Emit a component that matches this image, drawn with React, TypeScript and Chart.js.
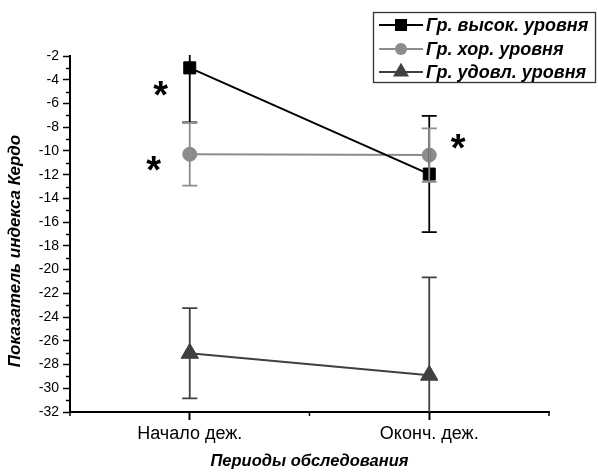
import React, { useEffect, useRef } from 'react';
import { Chart, registerables } from 'chart.js';

Chart.register(...registerables);

// ---- data ----
const categories = ['Начало деж.', 'Оконч. деж.'];
const seriesLabels = ['Гр. высок. уровня', 'Гр. хор. уровня', 'Гр. удовл. уровня'];
const highValues = [-3.0, -11.95];
const highErrors = [4.6, 4.9];
const goodValues = [-10.28, -10.35];
const goodErrors = [2.65, 2.25];
const satValues = [-27.05, -28.9];
const satErrors = [3.8, 8.25];
const yMin = -32;
const yMax = -2;
const yStep = 2;
const xAxisTitle = 'Периоды обследования';
const yAxisTitle = 'Показатель индекса Кердо';
const significanceMark = '*';

const FONT = '"Liberation Sans", Arial, Helvetica, sans-serif';
const COLORS = ['#000000', '#8c8c8c', '#404040'];
const STYLES = ['rect', 'circle', 'triangle'];
const RADII = [8.5, 7, 10];

function drawMarker(ctx: CanvasRenderingContext2D, style: string, x: number, y: number, size: number, color: string) {
  ctx.save();
  ctx.fillStyle = color;
  ctx.strokeStyle = color;
  ctx.beginPath();
  if (style === 'rect') {
    ctx.rect(x - size / 2, y - size / 2, size, size);
  } else if (style === 'circle') {
    ctx.arc(x, y, size / 2, 0, Math.PI * 2);
  } else {
    const r = size / 1.732;
    ctx.moveTo(x, y - r);
    ctx.lineTo(x + r * 0.866, y + r / 2);
    ctx.lineTo(x - r * 0.866, y + r / 2);
    ctx.closePath();
  }
  ctx.fill();
  ctx.restore();
}

const errorBarPlugin = {
  id: 'errorBars',
  afterDatasetsDraw(chart: any) {
    const { ctx, chartArea, scales } = chart;
    const x = scales.x;
    const y = scales.y;
    ctx.save();
    ctx.beginPath();
    ctx.rect(chartArea.left, chartArea.top - 1, chartArea.right - chartArea.left, chartArea.bottom - chartArea.top + 1);
    ctx.clip();
    [2, 0, 1].forEach((di) => {
      const ds = chart.data.datasets[di];
      const errs: number[] = ds.errors;
      ctx.strokeStyle = ds.borderColor;
      ctx.lineWidth = 1.8;
      ds.data.forEach((v: number, j: number) => {
        const px = x.getPixelForValue(j);
        const top = v + errs[j];
        const bot = v - errs[j];
        const pt = y.getPixelForValue(top);
        const pb = y.getPixelForValue(bot);
        ctx.beginPath();
        ctx.moveTo(px, pt);
        ctx.lineTo(px, pb);
        if (top <= yMax) {
          ctx.moveTo(px - 7.5, pt);
          ctx.lineTo(px + 7.5, pt);
        }
        if (bot >= yMin) {
          ctx.moveTo(px - 7.5, pb);
          ctx.lineTo(px + 7.5, pb);
        }
        ctx.stroke();
      });
    });
    ctx.restore();
  },
};

const decorPlugin = {
  id: 'decor',
  afterDraw(chart: any) {
    const { ctx, chartArea, scales } = chart;
    const x = scales.x;
    const y = scales.y;
    ctx.save();
    // minor ticks on y
    ctx.strokeStyle = '#000';
    ctx.lineWidth = 1.5;
    for (let v = yMin + yStep / 2; v < yMax; v += yStep) {
      const py = Math.round(y.getPixelForValue(v)) + 0.5;
      ctx.beginPath();
      ctx.moveTo(chartArea.left - 4, py);
      ctx.lineTo(chartArea.left, py);
      ctx.stroke();
    }
    // minor ticks on x (between / at ends of categories)
    const p0 = x.getPixelForValue(0);
    const p1 = x.getPixelForValue(1);
    const half = (p1 - p0) / 2;
    [p0 - half, p0 + half, p1 + half].forEach((px) => {
      ctx.beginPath();
      ctx.moveTo(px, chartArea.bottom);
      ctx.lineTo(px, chartArea.bottom + 4);
      ctx.stroke();
    });

    // y axis title
    ctx.save();
    ctx.translate(15, 251);
    ctx.rotate(-Math.PI / 2);
    ctx.font = `bold italic 17px ${FONT}`;
    ctx.fillStyle = '#000';
    ctx.textAlign = 'center';
    ctx.textBaseline = 'middle';
    ctx.fillText(yAxisTitle, 0, 0);
    ctx.restore();

    // significance marks
    ctx.font = `bold 38px ${FONT}`;
    ctx.fillStyle = '#000';
    ctx.textAlign = 'center';
    ctx.textBaseline = 'alphabetic';
    const marks = [
      { px: p0 - 29, py: y.getPixelForValue(-4.7) },
      { px: p0 - 36, py: y.getPixelForValue(-11.1) },
      { px: p1 + 29, py: y.getPixelForValue(-9.2) },
    ];
    const m = ctx.measureText(significanceMark);
    const off = (m.actualBoundingBoxAscent - m.actualBoundingBoxDescent) / 2;
    marks.forEach((mk) => ctx.fillText(significanceMark, mk.px, mk.py + off));

    // legend
    const bx = 373.5, by = 12.5, bw = 222, bh = 70;
    ctx.fillStyle = '#fff';
    ctx.fillRect(bx, by, bw, bh);
    ctx.strokeStyle = '#333';
    ctx.lineWidth = 1.3;
    ctx.strokeRect(bx, by, bw, bh);
    const rows = [25, 49, 72];
    chart.data.datasets.forEach((ds: any, i: number) => {
      const ry = rows[i];
      ctx.strokeStyle = ds.borderColor;
      ctx.lineWidth = 2;
      ctx.beginPath();
      ctx.moveTo(379, ry);
      ctx.lineTo(423, ry);
      ctx.stroke();
      drawMarker(ctx, STYLES[i], 401, ry, i === 2 ? 16 : 12, ds.borderColor);
      ctx.font = `bold italic 18px ${FONT}`;
      ctx.fillStyle = '#000';
      ctx.textAlign = 'left';
      ctx.textBaseline = 'middle';
      ctx.fillText(ds.label, 426, ry + 1);
    });
    ctx.restore();
  },
};

export default function App() {
  const ref = useRef<HTMLCanvasElement | null>(null);
  useEffect(() => {
    if (!ref.current) return;
    const mk = (label: string, data: number[], errors: number[], i: number) => ({
      label,
      data,
      errors,
      borderColor: COLORS[i],
      backgroundColor: COLORS[i],
      borderWidth: 2,
      pointStyle: STYLES[i],
      pointRadius: RADII[i],
      pointBorderWidth: 1,
      pointBackgroundColor: COLORS[i],
      pointBorderColor: COLORS[i],
      tension: 0,
      fill: false,
    });
    const chart = new Chart(ref.current, {
      type: 'line',
      data: {
        labels: categories,
        datasets: [
          mk(seriesLabels[0], highValues, highErrors, 0),
          mk(seriesLabels[1], goodValues, goodErrors, 1),
          mk(seriesLabels[2], satValues, satErrors, 2),
        ] as any,
      },
      options: {
        responsive: false,
        animation: false,
        devicePixelRatio: 1,
        layout: { padding: { top: 56, right: 49, left: 0, bottom: 0 } },
        plugins: { legend: { display: false }, tooltip: { enabled: false } },
        scales: {
          x: {
            type: 'category',
            offset: true,
            grid: { display: true, drawOnChartArea: false, drawTicks: true, tickLength: 8, tickWidth: 2, tickColor: '#000', offset: false },
            border: { display: true, color: '#000', width: 2 },
            ticks: { color: '#000', font: { family: FONT, size: 18 }, padding: 3, maxRotation: 0, autoSkip: false },
            title: { display: true, text: xAxisTitle, color: '#000', font: { family: FONT, size: 16.5, weight: 'bold', style: 'italic', lineHeight: 1.25 }, padding: 0 },
            afterFit: (s: any) => { s.height = 60; },
          },
          y: {
            type: 'linear',
            min: yMin,
            max: yMax,
            grid: { display: true, drawOnChartArea: false, drawTicks: true, tickLength: 7, tickWidth: 1.5, tickColor: '#000' },
            border: { display: true, color: '#000', width: 2 },
            ticks: { stepSize: yStep, color: '#000', font: { family: FONT, size: 14 }, padding: 4 },
            afterFit: (s: any) => { s.width = 70; },
          },
        },
      } as any,
      plugins: [errorBarPlugin, decorPlugin],
    });
    return () => chart.destroy();
  }, []);
  return (
    <div style={{ position: 'fixed', left: 0, top: 0, width: 598, height: 472, background: '#fff' }}>
      <canvas ref={ref} width={598} height={472} style={{ display: 'block' }} />
    </div>
  );
}
